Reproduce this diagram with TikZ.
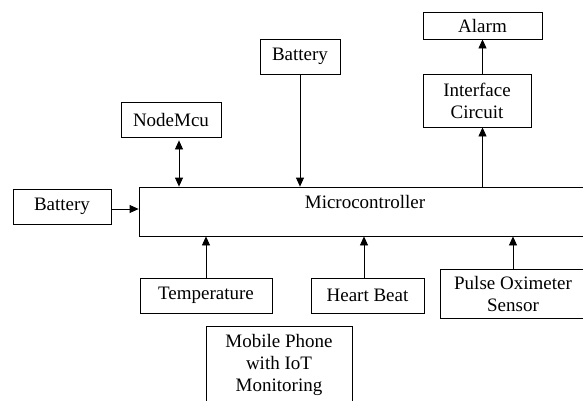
\documentclass[tikz,border=0pt]{standalone}
\usepackage{fontspec}
\setmainfont{Liberation Serif}
\usetikzlibrary{arrows.meta}
\tikzset{blk/.style={draw,line width=.8pt,inner sep=0pt,align=center,font=\fontsize{19}{22}\selectfont},
  arr/.style={-{Triangle[length=9pt,width=8pt]},line width=.8pt},
  dbl/.style={{Triangle[length=9pt,width=8pt]}-{Triangle[length=9pt,width=8pt]},line width=.8pt}}

\begin{document}
\begin{tikzpicture}[x=1pt,y=-1pt]
\useasboundingbox(0,0)rectangle(583,400);\clip(0,0)rectangle(583,400);
% blocks
\node[blk,minimum width=452pt,minimum height=49pt,label={[font=\fontsize{19}{22}\selectfont,anchor=center,yshift=-15pt]north:Microcontroller}](mcu)at(365,211.5){};
\node[blk,minimum width=98pt,minimum height=35pt](batL)at(62,206.5){Battery};
\node[blk,minimum width=100pt,minimum height=35pt](nmcu)at(171,119.5){NodeMcu};
\node[blk,minimum width=80pt,minimum height=35pt](batT)at(300,56.5){Battery};
\node[blk,minimum width=108pt,minimum height=53pt](ifc)at(477,100.5){Interface\\Circuit};
\node[blk,minimum width=119pt,minimum height=27pt](alarm)at(482.5,25.5){Alarm};
\node[blk,minimum width=132pt,minimum height=35pt](temp)at(206,295.5){Temperature};
\node[blk,minimum width=113pt,minimum height=35pt](hb)at(367.5,295.5){Heart Beat};
\node[blk,minimum width=146pt,minimum height=49pt](pulse)at(513,293.5){Pulse Oximeter\\Sensor};
\node[blk,minimum width=146pt,minimum height=78pt](mob)at(279,365){Mobile Phone\\with IoT\\Monitoring};
% links
\draw[arr]([yshift=-2.5pt]batL.east)--([yshift=-2.5pt]batL.east-|mcu.west);
\draw[dbl]([xshift=8pt,yshift=-3pt]nmcu.south)--([xshift=8pt]nmcu.south|-mcu.north);
\draw[arr](batT.south)--(batT.south|-mcu.north);
\draw[arr](alarm.south|-mcu.north)--(alarm.south|-ifc.south);\draw[arr](alarm.south|-ifc.north)--(alarm.south);
\draw[arr](temp.north)--(temp.north|-mcu.south);
\draw[arr]([xshift=-3.5pt]hb.north)--([xshift=-3.5pt]hb.north|-mcu.south);
\draw[arr](pulse.north)--(pulse.north|-mcu.south);
\end{tikzpicture}
\end{document}
